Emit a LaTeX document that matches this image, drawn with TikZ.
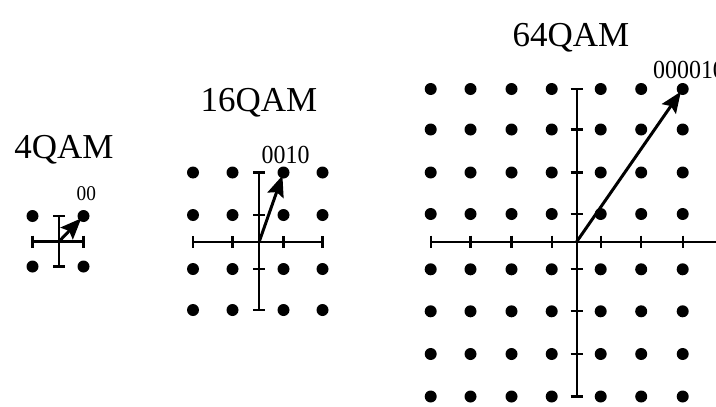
\documentclass[tikz,border=0pt]{standalone}
\usepackage{fontspec}
\setmainfont{Liberation Serif}
\usetikzlibrary{arrows.meta}
\tikzset{
  dot/.style={circle, fill=black, inner sep=0pt, minimum size=12pt},
  axisline/.style={line width=2.2pt},
  vec/.style={line width=3pt, shorten >=-3pt, -{Stealth[length=21pt,width=17pt,inset=3.5pt]}},
  title/.style={font=\fontsize{35}{40}\selectfont, inner sep=0pt, anchor=base},
  bits/.style={inner sep=0pt, anchor=base west, xscale=0.92},
}
% dots of a square constellation: #1 name, #2 column positions, #3 row positions
\newcommand\qampoints[3]{%
  \foreach \cx [count=\i] in {#2} {
    \foreach \ry [count=\j] in {#3} {
      \node[dot] (#1-\i-\j) at (\cx,\ry) {};
    }
  }%
}
% axes with tick marks: #1 columns, #2 rows, #3 origin x, #4 origin y, #5 x end, #6 x start, #7 y top, #8 y bottom
\newcommand\qamaxes[8]{%
  \draw[axisline] (#6,#4) -- (#5,#4);
  \draw[axisline] (#3,#7) -- (#3,#8);
  \foreach \cx in {#1} { \draw[axisline] (\cx,#4-6) -- (\cx,#4+6); }
  \foreach \ry in {#2} { \draw[axisline] (#3-6,\ry) -- (#3+6,\ry); }
}
\begin{document}
\begin{tikzpicture}[x=1pt, y=-1pt]
  \useasboundingbox (0,0) rectangle (716,407);
  \clip (0,0) rectangle (716,407);

  % 4QAM
  \node[title] (t4) at (64,158) {4QAM};
  \qamaxes{32.5,83.5}{216,266.5}{59}{241.5}{83.5}{32.5}{216}{266.5}
  \qampoints{q4}{32.5,83.5}{216,266.5}
  \coordinate (q4-o) at (59,241.5);
  \draw[vec] (q4-o) -- (q4-2-1);
  \node[bits, font=\fontsize{21}{24}\selectfont] (b4) at (76.5,200) {00};

  % 16QAM
  \node[title] (t16) at (259,111) {16QAM};
  \qamaxes{193,232.5,283.5,322.5}{172.5,215,269,310}{259}{242.3}{322.5}{193}{172.5}{310}
  \qampoints{q16}{193,232.5,283.5,322.5}{172.5,215,269,310}
  \coordinate (q16-o) at (259,242.3);
  \draw[vec] (q16-o) -- (q16-3-1);
  \node[bits, font=\fontsize{26}{30}\selectfont] (b16) at (261.5,163.5) {0010};

  % 64QAM
  \node[title] (t64) at (571,46.5) {64QAM};
  \qamaxes{430.7,470.5,511.5,551.7,600.7,641.2,682.7,722}{89,129.5,172.5,214,269.3,311.3,354,396.5}{576.7}{241.7}{730}{430.7}{89}{396.5}
  \qampoints{q64}{430.7,470.5,511.5,551.7,600.7,641.2,682.7,722}{89,129.5,172.5,214,269.3,311.3,354,396.5}
  \coordinate (q64-o) at (576.7,241.7);
  \draw[vec] (q64-o) -- (q64-7-1);
  \node[bits, font=\fontsize{26}{30}\selectfont] (b64) at (653,78.5) {000010};
\end{tikzpicture}
\end{document}
